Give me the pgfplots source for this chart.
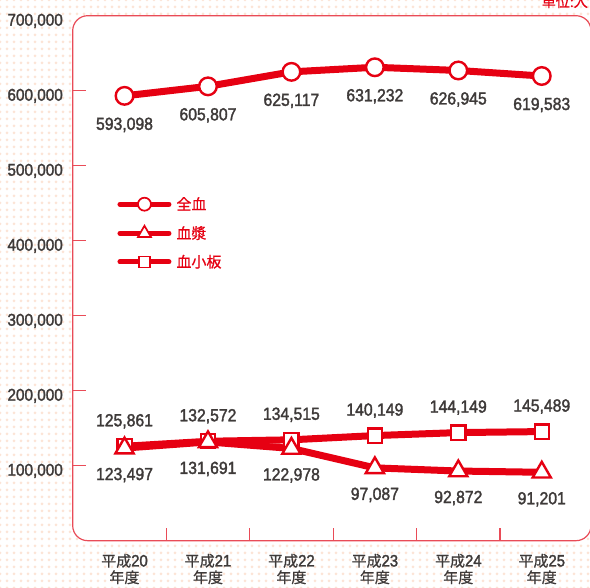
\documentclass[border=0pt]{standalone}
\usepackage{pgfplots}
\pgfplotsset{compat=1.18}
\usepackage{pgfplotstable}
\usepackage{fontspec}
\usetikzlibrary{patterns.meta}
\setmainfont{Noto Sans CJK JP}
\newfontfamily\cjkb[FakeBold=0.7]{Noto Sans CJK JP}
\newfontfamily\numfont[FakeStretch=0.9,FakeBold=1.8]{Liberation Sans}
\definecolor{jrcred}{HTML}{E60012}
\definecolor{boxred}{HTML}{E94B57}
\definecolor{txtgray}{HTML}{3E3A39}
\definecolor{dotcol}{RGB}{252,228,214}
\newcommand{\yr}[1]{平成{\numfont\fontsize{16.5}{16.5}\selectfont #1}\\年度}

\pgfplotstableread{
x y lab
0 593098 593,098
1 605807 605,807
2 625117 625,117
3 631232 631,232
4 626945 626,945
5 619583 619,583
}\zenketsu
\pgfplotstableread{
x y lab
0 123497 123,497
1 131691 131,691
2 122978 122,978
3 97087 97,087
4 92872 92,872
5 91201 91,201
}\kessho
\pgfplotstableread{
x y lab
0 125861 125,861
1 132572 132,572
2 134515 134,515
3 140149 140,149
4 144149 144,149
5 145489 145,489
}\kesshoban

\begin{document}
\begin{tikzpicture}
\useasboundingbox (0,0) rectangle (590pt,588pt);
\clip (0,0) rectangle (590pt,588pt);
\fill[white] (0,0) rectangle (590pt,588pt);
\fill[pattern={Dots[distance=7pt,radius=1.5pt]}, pattern color=dotcol] (0,0) rectangle (590pt,588pt);
\filldraw[fill=white, draw=boxred, line width=1.2pt, rounded corners=15pt] (72.7pt,47.3pt) rectangle (591pt,572.3pt);
\node[anchor=base west, text=jrcred, font=\cjkb\fontsize{14}{14}\selectfont, inner sep=0pt] at (541.7pt,581pt) {単位:人};
\begin{axis}[
  at={(72.7pt,47.3pt)}, anchor=south west,
  width=518.3pt, height=525pt, scale only axis,
  xmin=-0.621, xmax=5.59, ymin=0, ymax=700000,
  clip=false,
  axis line style={draw=none},
  tick pos=left, tick align=inside,
  major tick length=13pt,
  tick style={draw=boxred, line width=1.2pt},
  xtick={0.5,1.5,2.5,3.5,4.5}, xticklabels={},
  extra x ticks={0,1,2,3,4,5},
  extra x tick labels={\yr{20},\yr{21},\yr{22},\yr{23},\yr{24},\yr{25}},
  extra x tick style={major tick length=0pt},
  xticklabel style={align=center, font=\cjkb\fontsize{15}{16.5}\selectfont, text=txtgray, anchor=north, inner sep=0pt, yshift=-13pt},
  ytick={100000,200000,300000,400000,500000,600000},
  extra y ticks={700000},
  extra y tick style={major tick length=0pt},
  scaled y ticks=false,
  yticklabel style={/pgf/number format/.cd, fixed, 1000 sep={,}, assume math mode=true, /tikz/.cd,
     font=\numfont\fontsize{17}{18}\selectfont, text=txtgray, anchor=base east, inner sep=0pt, xshift=-9.7pt, yshift=-10pt},
  legend image code/.code={\draw[mark repeat=2,mark phase=2,#1] plot coordinates {(0pt,0pt) (24.5pt,0pt) (49pt,0pt)};},
  legend style={draw=none, fill=none, text=jrcred, font=\cjkb\fontsize{15}{16}\selectfont,
     at={(0.086,0.586)}, anchor=west, inner sep=0pt, row sep=14.5pt, column sep=5pt,
     nodes={inner sep=0pt}},
  legend cell align=left,
  point meta=explicit symbolic,
]
\addlegendimage{jrcred, line width=5pt, line cap=round, mark=*, mark size=6.5pt, mark options={fill=white, draw=jrcred, line width=1.7pt}}
\addlegendentry{全血}
\addlegendimage{jrcred, line width=5pt, line cap=round, mark=triangle*, mark size=7.5pt, mark options={fill=white, draw=jrcred, line width=1.7pt}}
\addlegendentry{血漿}
\addlegendimage{jrcred, line width=5pt, line cap=round, mark=square*, mark size=5.5pt, mark options={fill=white, draw=jrcred, line width=1.7pt}}
\addlegendentry{血小板}

\addplot[forget plot, jrcred, line width=7pt, mark=*, mark size=8.8pt, mark options={fill=white, draw=jrcred, line width=2.4pt},
  nodes near coords, nodes near coords style={font=\numfont\fontsize{17.5}{18}\selectfont, text=txtgray, anchor=base, inner sep=0pt, yshift=-34pt}]
  table[x=x, y=y, meta=lab] {\zenketsu};
\addplot[forget plot, jrcred, line width=7pt, mark=square*, mark size=7.1pt, mark options={fill=white, draw=jrcred, line width=2.2pt},
  nodes near coords, nodes near coords style={font=\numfont\fontsize{17.5}{18}\selectfont, text=txtgray, anchor=base, inner sep=0pt, yshift=20pt}]
  table[x=x, y=y, meta=lab] {\kesshoban};
\addplot[forget plot, jrcred, line width=7pt, mark=triangle*, mark size=10.5pt, mark options={fill=white, draw=jrcred, line width=2.4pt},
  nodes near coords, nodes near coords style={font=\numfont\fontsize{17.5}{18}\selectfont, text=txtgray, anchor=base, inner sep=0pt, yshift=-32pt}]
  table[x=x, y=y, meta=lab] {\kessho};
\end{axis}
\end{tikzpicture}
\end{document}
